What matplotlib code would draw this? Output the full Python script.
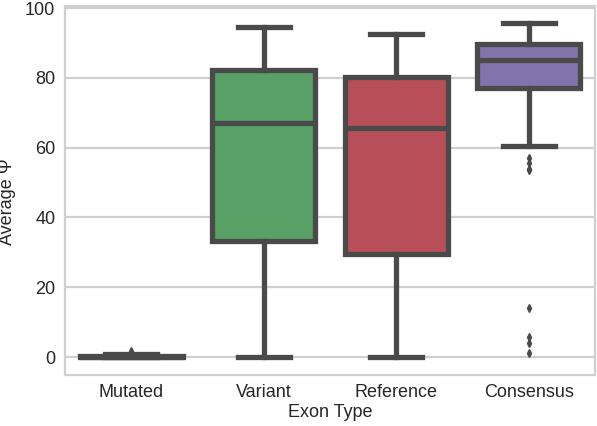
import matplotlib
matplotlib.use("Agg")
import matplotlib.pyplot as plt

categories = ["Mutated", "Variant", "Reference", "Consensus"]
whislo = [0.0, 0.0, 0.0, 60.5]
q1 = [0.0, 33.2, 29.5, 77.0]
med = [0.0, 67.0, 65.6, 85.0]
q3 = [0.3, 82.3, 80.2, 89.8]
whishi = [1.0, 94.5, 92.5, 95.6]
fliers = [
    [1.8],
    [],
    [],
    [57.0, 55.5, 54.0, 53.5, 14.0, 5.7, 4.0, 1.1],
]
box_colors = ["#5874a8", "#58a066", "#b84f58", "#8373ac"]
y_ticks = [0, 20, 40, 60, 80, 100]

plt.rcParams["font.family"] = ["Liberation Sans", "DejaVu Sans"]

fig = plt.figure(figsize=(5.97, 4.26), dpi=100)
ax = fig.add_axes([65 / 597, (426 - 374.5) / 426, 530 / 597, 368.2 / 426])

stats = []
for i, name in enumerate(categories):
    stats.append(dict(label=name, whislo=whislo[i], q1=q1[i], med=med[i],
                      q3=q3[i], whishi=whishi[i], fliers=fliers[i]))

line_col = "#4a4a4a"
lw = 3.8
bp = ax.bxp(stats, positions=range(len(categories)), widths=0.78,
            patch_artist=True, showfliers=True,
            boxprops=dict(edgecolor=line_col, linewidth=lw),
            medianprops=dict(color=line_col, linewidth=lw),
            whiskerprops=dict(color=line_col, linewidth=lw),
            capprops=dict(color=line_col, linewidth=lw),
            flierprops=dict(marker="d", markerfacecolor=line_col,
                            markeredgecolor=line_col, markersize=4),
            capwidths=0.39)
for patch, c in zip(bp["boxes"], box_colors):
    patch.set_facecolor(c)

ax.set_xlim(-0.5, len(categories) - 0.5)
ax.set_ylim(-5, 100.5)
ax.set_yticks(y_ticks)
ax.set_xticks(range(len(categories)))
ax.set_xticklabels(categories)
ax.yaxis.grid(True, color="#d0d0d0", linewidth=1.6)
ax.xaxis.grid(False)
ax.set_axisbelow(True)
for s in ax.spines.values():
    s.set_color("#d0d0d0")
    s.set_linewidth(1.6)
ax.tick_params(axis="both", length=0, labelsize=13, colors="#262626", pad=7)
ax.set_xlabel("Exon Type", fontsize=13, color="#262626", labelpad=2)
ax.set_ylabel("Average Ψ", fontsize=13, color="#262626")
ax.yaxis.set_label_coords(-0.092, 0.47)

fig.savefig("out.png", dpi=100)
